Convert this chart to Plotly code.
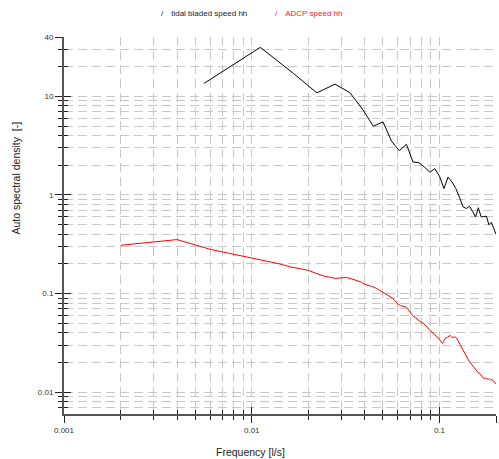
import plotly.graph_objects as go

# ---- data ----
freq_tidal = [0.005556, 0.01111, 0.01667, 0.02222, 0.02778, 0.03333, 0.03889, 0.04444,
              0.05, 0.05556, 0.06111, 0.06667, 0.07222, 0.07778, 0.08333, 0.08889,
              0.09444, 0.1, 0.1056, 0.1111, 0.1167, 0.1222, 0.1278, 0.1333,
              0.1389, 0.1444, 0.15, 0.1556, 0.1611, 0.1667, 0.1722, 0.1778,
              0.1833, 0.1889, 0.1944, 0.2]
psd_tidal = [13.5, 31.4, 17.1, 10.85, 13.3, 10.9, 7.41, 4.98,
             5.51, 3.51, 2.81, 3.27, 2.16, 2.12, 1.91, 1.70,
             1.85, 1.55, 1.16, 1.52, 1.35, 1.16, 0.948, 0.759,
             0.728, 0.768, 0.683, 0.598, 0.741, 0.598, 0.604, 0.608,
             0.498, 0.528, 0.459, 0.399]

freq_adcp = [0.002, 0.004, 0.006, 0.008, 0.010, 0.012, 0.014, 0.016, 0.018, 0.020,
             0.022, 0.024, 0.026, 0.028, 0.030, 0.032, 0.034, 0.036, 0.038, 0.040,
             0.042, 0.044, 0.046, 0.048, 0.050, 0.052, 0.054, 0.056, 0.058, 0.060,
             0.062, 0.064, 0.066, 0.068, 0.070, 0.072, 0.074, 0.076, 0.078, 0.080,
             0.082, 0.084, 0.086, 0.088, 0.090, 0.092, 0.094, 0.096, 0.098, 0.100,
             0.102, 0.104, 0.106, 0.108, 0.110, 0.112, 0.114, 0.116, 0.118, 0.120,
             0.122, 0.124, 0.126, 0.128, 0.130, 0.132, 0.134, 0.136, 0.138, 0.140,
             0.142, 0.144, 0.146, 0.148, 0.150, 0.152, 0.154, 0.156, 0.158, 0.160,
             0.162, 0.164, 0.166, 0.168, 0.170, 0.172, 0.174, 0.176, 0.178, 0.180,
             0.182, 0.184, 0.186, 0.188, 0.190, 0.192, 0.194, 0.196, 0.198, 0.200]
psd_adcp = [0.3085, 0.3525, 0.2810, 0.2500, 0.2288, 0.2148, 0.2002, 0.1866, 0.1781, 0.1720,
            0.1604, 0.1512, 0.1460, 0.1426, 0.1443, 0.1453, 0.1410, 0.1368, 0.1315, 0.1240,
            0.1217, 0.1175, 0.1129, 0.1073, 0.1028, 0.0981, 0.0952, 0.0904, 0.0843, 0.0786,
            0.0755, 0.0745, 0.0733, 0.0691, 0.0630, 0.0594, 0.0573, 0.0547, 0.0528, 0.0510,
            0.0501, 0.0481, 0.0454, 0.0433, 0.0413, 0.0399, 0.0385, 0.0372, 0.0359, 0.0343,
            0.0323, 0.0312, 0.0335, 0.0355, 0.0359, 0.0372, 0.0376, 0.0363, 0.0357, 0.0363,
            0.0362, 0.0347, 0.0327, 0.0305, 0.0291, 0.0275, 0.0259, 0.0244, 0.0233, 0.0223,
            0.0215, 0.0205, 0.0198, 0.0191, 0.0187, 0.0182, 0.0176, 0.0170, 0.0164, 0.0158,
            0.0155, 0.0155, 0.0150, 0.0144, 0.0141, 0.0137, 0.0138, 0.0139, 0.0137, 0.0136,
            0.0135, 0.0137, 0.0135, 0.0132, 0.0135, 0.0130, 0.0128, 0.0128, 0.0124, 0.0121]

series_names = ["tidal bladed speed hh", "ADCP speed hh"]

x_major = [0.001, 0.01, 0.1, 0.2]
x_major_text = ["0.001", "0.01", "0.1", "0.2"]
x_minor = [0.002, 0.003, 0.004, 0.005, 0.006, 0.007, 0.008, 0.009,
           0.02, 0.03, 0.04, 0.05, 0.06, 0.07, 0.08, 0.09]
y_major = [0.01, 0.1, 1, 10, 40]
y_major_text = ["0.01", "0.1", "1", "10", "40"]
y_minor = [0.007, 0.008, 0.009,
           0.02, 0.03, 0.04, 0.05, 0.06, 0.07, 0.08, 0.09,
           0.2, 0.3, 0.4, 0.5, 0.6, 0.7, 0.8, 0.9,
           2, 3, 4, 5, 6, 7, 8, 9, 20, 30]

x_range = [-3, -0.69897]
y_range = [-2.2218, 1.60206]

FONT = "Liberation Sans, Arial, sans-serif"
GRID = "#c8c8c8"
DASH = "9px,5px"

fig = go.Figure()
fig.add_trace(go.Scatter(x=freq_tidal, y=psd_tidal, mode="lines",
                         line=dict(color="black", width=1), showlegend=False,
                         name=series_names[0]))
fig.add_trace(go.Scatter(x=freq_adcp, y=psd_adcp, mode="lines",
                         line=dict(color="red", width=1), showlegend=False,
                         name=series_names[1]))
# legend entries (slanted-line icon as text)
fig.add_trace(go.Scatter(x=[None], y=[None], mode="lines", line=dict(width=0, color="black"),
                         name="/\u2003" + series_names[0]))
fig.add_trace(go.Scatter(x=[None], y=[None], mode="lines", line=dict(width=0, color="red"),
                         name="<span style='color:#ff2020'>/\u2003" + series_names[1] + "</span>"))
# overlay axes for inward half of crossing ticks
fig.add_trace(go.Scatter(x=[], y=[], xaxis="x2", yaxis="y2", showlegend=False, hoverinfo="skip"))

common_axis = dict(type="log", automargin=False, zeroline=False)

fig.update_layout(
    width=499, height=459,
    margin=dict(l=64, r=3, t=37, b=45, pad=0),
    paper_bgcolor="white", plot_bgcolor="white",
    font=dict(family=FONT, size=8, color="#222"),
    xaxis=dict(**common_axis, range=x_range,
               tickvals=x_major, ticktext=x_major_text,
               ticks="outside", ticklen=7, tickwidth=1, tickcolor="#222",
               showline=True, linecolor="#555", linewidth=2,
               showgrid=True, gridcolor=GRID, gridwidth=1, griddash=DASH,
               tickfont=dict(size=8, color="#333"),
               minor=dict(tickvals=x_minor, ticks="outside", ticklen=4, tickwidth=1,
                          tickcolor="#222", showgrid=True, gridcolor=GRID,
                          gridwidth=1, griddash=DASH)),
    yaxis=dict(**common_axis, range=y_range,
               tickvals=y_major, ticktext=y_major_text,
               ticks="outside", ticklen=7, tickwidth=1, tickcolor="#222",
               showline=True, linecolor="#555", linewidth=2,
               showgrid=True, gridcolor=GRID, gridwidth=1, griddash=DASH,
               tickfont=dict(size=8, color="#333"),
               minor=dict(tickvals=y_minor, ticks="outside", ticklen=4, tickwidth=1,
                          tickcolor="#222", showgrid=True, gridcolor=GRID,
                          gridwidth=1, griddash=DASH)),
    xaxis2=dict(**common_axis, range=x_range, overlaying="x", anchor="y2",
                tickvals=x_major, ticks="inside", ticklen=7, tickwidth=1, tickcolor="#222",
                showticklabels=False, showgrid=False, showline=False,
                minor=dict(tickvals=x_minor, ticks="inside", ticklen=4, tickwidth=1,
                           tickcolor="#222", showgrid=False)),
    yaxis2=dict(**common_axis, range=y_range, overlaying="y", anchor="x2",
                tickvals=y_major, ticks="inside", ticklen=7, tickwidth=1, tickcolor="#222",
                showticklabels=False, showgrid=False, showline=False,
                minor=dict(tickvals=y_minor, ticks="inside", ticklen=4, tickwidth=1,
                           tickcolor="#222", showgrid=False)),
    legend=dict(orientation="h", xref="container", yref="container",
                x=121 / 499, xanchor="left", y=1 - 12.5 / 459, yanchor="middle",
                bgcolor="rgba(0,0,0,0)", borderwidth=0, itemwidth=30,
                entrywidth=69, entrywidthmode="pixels",
                font=dict(family=FONT, size=8, color="#222")),
    annotations=[
        dict(text="Frequency [l/s]", xref="paper", yref="paper",
             x=(250 - 64) / 432, y=-(451.7 - 414) / 377, xanchor="center", yanchor="middle",
             showarrow=False, font=dict(family=FONT, size=10.5, color="#222")),
        dict(text="Auto spectral density  [-]", xref="paper", yref="paper",
             x=(15 - 64) / 432, y=(414 - 178.5) / 377, xanchor="center", yanchor="middle",
             textangle=-90, showarrow=False, font=dict(family=FONT, size=10.5, color="#222")),
    ],
)

fig.write_html("out.html")
